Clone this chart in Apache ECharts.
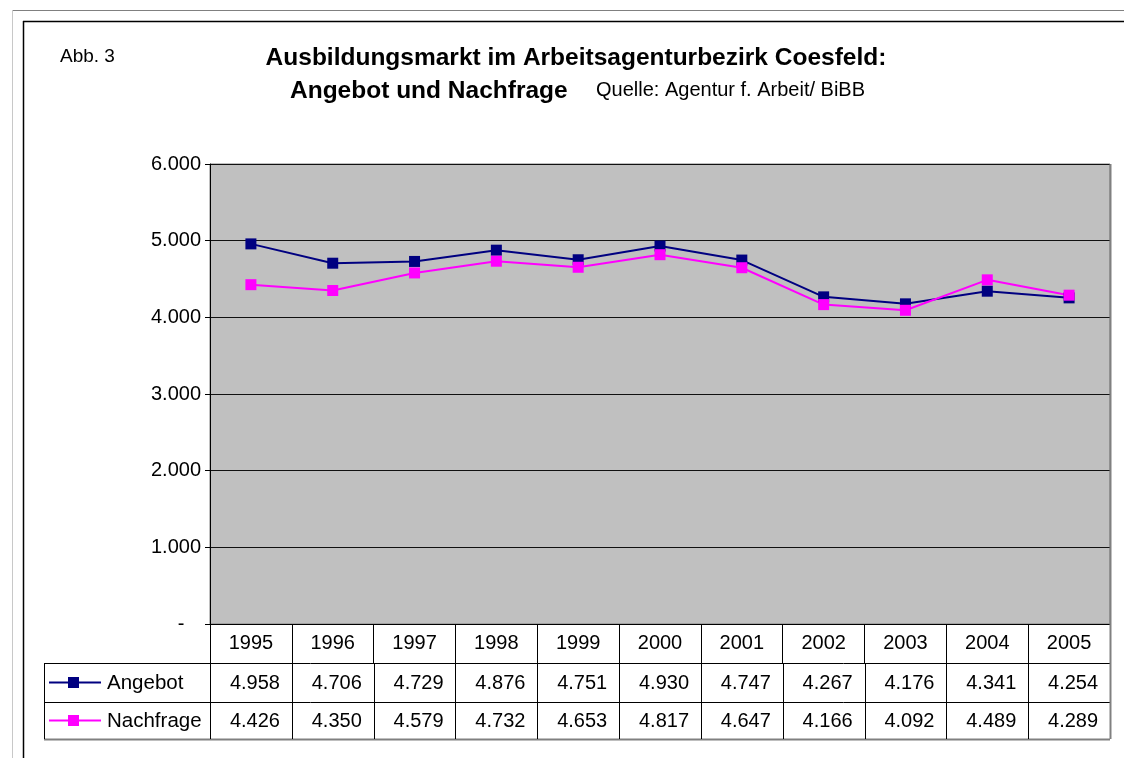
<!DOCTYPE html>
<html>
<head>
<meta charset="utf-8">
<script src="https://cdn.jsdelivr.net/npm/echarts@6/dist/echarts.min.js"></script>
<style>
    html, body { margin: 0; padding: 0; background: #fff; }
    #chart { width: 1124px; height: 758px; }
</style>
</head>
<body>
<div id="chart"></div>
<script>
    // Daten (Quelle: Agentur f. Arbeit/ BiBB)
    var years = ['1995', '1996', '1997', '1998', '1999', '2000', '2001', '2002', '2003', '2004', '2005'];
    var angebot = [4958, 4706, 4729, 4876, 4751, 4930, 4747, 4267, 4176, 4341, 4254];
    var nachfrage = [4426, 4350, 4579, 4732, 4653, 4817, 4647, 4166, 4092, 4489, 4289];
    var yTickLabels = ['-', '1.000', '2.000', '3.000', '4.000', '5.000', '6.000'];

    var seriesNames = ['Angebot', 'Nachfrage'];
    var seriesColors = ['#000080', '#ff00ff'];
    var font = 'Liberation Sans, Arial, sans-serif';

    // Tausenderpunkt
    function fmt(v) {
        var s = String(v);
        return s.length > 3 ? s.slice(0, s.length - 3) + '.' + s.slice(s.length - 3) : s;
    }

    var chart = echarts.init(document.getElementById('chart'));

    var option = {
        animation: false,
        textStyle: { fontFamily: font },
        grid: {
            left: 210, right: 14, top: 164, bottom: 134,
            show: true,
            backgroundColor: '#c0c0c0',
            borderColor: '#808080',
            borderWidth: 1
        },
        xAxis: {
            type: 'category',
            data: years,
            boundaryGap: true,
            axisLine: { lineStyle: { color: '#000', width: 1 } },
            axisTick: { show: true, interval: 0, length: 39, lineStyle: { color: '#000' } },
            axisLabel: { interval: 0, color: '#000', fontSize: 20, margin: 9, fontFamily: font }
        },
        yAxis: {
            type: 'value',
            min: 0, max: 6000, interval: 1000,
            axisLine: { show: true, lineStyle: { color: '#000' } },
            axisTick: { show: true, length: 5, lineStyle: { color: '#000' } },
            axisLabel: {
                color: '#000', fontSize: 20, margin: 9, fontFamily: font,
                formatter: function (v) {
                    var idx = Math.round(v / 1000);
                    return idx === 0 ? yTickLabels[0] + '   ' : yTickLabels[idx]; // Excel-Format: "-" eingerückt
                }
            },
            splitLine: { lineStyle: { color: '#111', width: 1 } }
        },
        series: [
            {
                name: seriesNames[0], type: 'line', data: angebot,
                symbol: 'rect', symbolSize: 11,
                itemStyle: { color: seriesColors[0] },
                lineStyle: { color: seriesColors[0], width: 2 }
            },
            {
                name: seriesNames[1], type: 'line', data: nachfrage,
                symbol: 'rect', symbolSize: 11,
                itemStyle: { color: seriesColors[1] },
                lineStyle: { color: seriesColors[1], width: 2 }
            }
        ]
    };
    chart.setOption(option);

    // Datentabelle unter dem Diagramm
    var c0 = chart.convertToPixel({ xAxisIndex: 0 }, years[0]);
    var c1 = chart.convertToPixel({ xAxisIndex: 0 }, years[1]);
    var cw = c1 - c0;
    var yAxisPx = chart.convertToPixel({ yAxisIndex: 0 }, 0);
    var rowH = [39, 39, 37];
    var rowTop = [yAxisPx, yAxisPx + rowH[0], yAxisPx + rowH[0] + rowH[1]];
    var tableBottom = rowTop[2] + rowH[2];
    var leftX = 44;
    var rightX = c0 - cw / 2 + cw * years.length;

    function line(x1, y1, x2, y2, color, w) {
        return { type: 'line', shape: { x1: x1, y1: y1, x2: x2, y2: y2 }, style: { stroke: color, lineWidth: w || 1 }, z: 10 };
    }
    function text(str, x, y, size, align, weight) {
        return {
            type: 'text', x: x, y: y, z: 10,
            style: { text: str, fill: '#000', font: (weight || 'normal') + ' ' + size + 'px ' + font, textAlign: align || 'left', textVerticalAlign: 'middle' }
        };
    }

    var g = [];
    // Seitenrahmen
    g.push(line(12, 10.5, 1124, 10.5, '#808080', 1));
    g.push(line(12.5, 10, 12.5, 758, '#c8c8c8', 1));
    g.push(line(23, 21.5, 1124, 21.5, '#000', 1.5));
    g.push(line(23.5, 21, 23.5, 758, '#000', 1.5));
    // Titel
    g.push(text('Abb. 3', 60, 57, 19));
    g.push(text('Ausbildungsmarkt im Arbeitsagenturbezirk Coesfeld:', 576, 58, 24.5, 'center', 'bold'));
    g.push(text('Angebot und Nachfrage', 290, 91, 24.5, 'left', 'bold'));
    g.push(text('Quelle: Agentur f. Arbeit/ BiBB', 596, 90, 20, 'left'));

    // Tabellenlinien
    g.push(line(leftX, rowTop[1] + 0.5, rightX, rowTop[1] + 0.5, '#000'));
    g.push(line(leftX, rowTop[2] + 0.5, rightX, rowTop[2] + 0.5, '#000'));
    g.push(line(leftX, tableBottom + 0.5, rightX, tableBottom + 0.5, '#808080', 2));
    g.push(line(leftX + 0.5, rowTop[1], leftX + 0.5, tableBottom, '#000'));
    for (var i = 0; i <= years.length; i++) {
        var bx = Math.round(c0 - cw / 2 + cw * i) + 0.5;
        g.push(line(bx, rowTop[1], bx, tableBottom, i === years.length ? '#808080' : '#000', i === years.length ? 2 : 1));
    }
    g.push(line(rightX + 0.5, 164, rightX + 0.5, rowTop[1], '#808080', 2));

    // Legende + Werte
    var rows = [angebot, nachfrage];
    for (var r = 0; r < rows.length; r++) {
        var cy = rowTop[r + 1] + rowH[r + 1] / 2;
        g.push(line(49, cy, 101, cy, seriesColors[r], 2));
        g.push({ type: 'rect', shape: { x: 68, y: cy - 5.5, width: 11, height: 11 }, style: { fill: seriesColors[r] }, z: 11 });
        g.push(text(seriesNames[r], 107, cy + 1, 20.5));
        for (var j = 0; j < years.length; j++) {
            var cx = chart.convertToPixel({ xAxisIndex: 0 }, years[j]);
            g.push(text(fmt(rows[r][j]), cx + 4, cy + 1, 20, 'center'));
        }
    }

    chart.setOption({ graphic: { elements: g } });
</script>
</body>
</html>
